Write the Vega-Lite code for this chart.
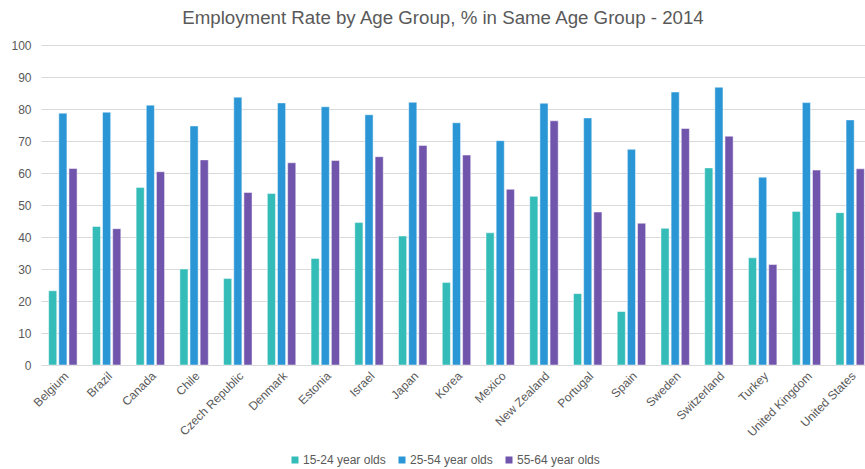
{
  "$schema": "https://vega.github.io/schema/vega-lite/v6.json",
  "width": 824,
  "height": 320,
  "autosize": {"type": "none"},
  "padding": {"left": 41, "top": 45, "right": 0, "bottom": 104},
  "background": "#ffffff",
  "title": {
    "text": "Employment Rate by Age Group, % in Same Age Group - 2014",
    "fontSize": 18.7,
    "fontWeight": "normal",
    "font": "Liberation Sans",
    "color": "#595959",
    "anchor": "middle",
    "offset": 11,
    "dx": -10
  },
  "config": {
    "font": "Liberation Sans",
    "view": {"stroke": null}
  },
  "data": {
    "values": [
      {"country": "Belgium", "group": "15-24 year olds", "rate": 23.2},
      {"country": "Belgium", "group": "25-54 year olds", "rate": 78.7},
      {"country": "Belgium", "group": "55-64 year olds", "rate": 61.4},
      {"country": "Brazil", "group": "15-24 year olds", "rate": 43.3},
      {"country": "Brazil", "group": "25-54 year olds", "rate": 79.0},
      {"country": "Brazil", "group": "55-64 year olds", "rate": 42.6},
      {"country": "Canada", "group": "15-24 year olds", "rate": 55.5},
      {"country": "Canada", "group": "25-54 year olds", "rate": 81.2},
      {"country": "Canada", "group": "55-64 year olds", "rate": 60.4},
      {"country": "Chile", "group": "15-24 year olds", "rate": 30.0},
      {"country": "Chile", "group": "25-54 year olds", "rate": 74.7},
      {"country": "Chile", "group": "55-64 year olds", "rate": 64.1},
      {"country": "Czech Republic", "group": "15-24 year olds", "rate": 27.0},
      {"country": "Czech Republic", "group": "25-54 year olds", "rate": 83.7},
      {"country": "Czech Republic", "group": "55-64 year olds", "rate": 53.9},
      {"country": "Denmark", "group": "15-24 year olds", "rate": 53.6},
      {"country": "Denmark", "group": "25-54 year olds", "rate": 81.9},
      {"country": "Denmark", "group": "55-64 year olds", "rate": 63.2},
      {"country": "Estonia", "group": "15-24 year olds", "rate": 33.3},
      {"country": "Estonia", "group": "25-54 year olds", "rate": 80.7},
      {"country": "Estonia", "group": "55-64 year olds", "rate": 63.9},
      {"country": "Israel", "group": "15-24 year olds", "rate": 44.5},
      {"country": "Israel", "group": "25-54 year olds", "rate": 78.2},
      {"country": "Israel", "group": "55-64 year olds", "rate": 65.1},
      {"country": "Japan", "group": "15-24 year olds", "rate": 40.3},
      {"country": "Japan", "group": "25-54 year olds", "rate": 82.1},
      {"country": "Japan", "group": "55-64 year olds", "rate": 68.6},
      {"country": "Korea", "group": "15-24 year olds", "rate": 25.8},
      {"country": "Korea", "group": "25-54 year olds", "rate": 75.7},
      {"country": "Korea", "group": "55-64 year olds", "rate": 65.6},
      {"country": "Mexico", "group": "15-24 year olds", "rate": 41.3},
      {"country": "Mexico", "group": "25-54 year olds", "rate": 70.1},
      {"country": "Mexico", "group": "55-64 year olds", "rate": 54.9},
      {"country": "New Zealand", "group": "15-24 year olds", "rate": 52.7},
      {"country": "New Zealand", "group": "25-54 year olds", "rate": 81.8},
      {"country": "New Zealand", "group": "55-64 year olds", "rate": 76.3},
      {"country": "Portugal", "group": "15-24 year olds", "rate": 22.3},
      {"country": "Portugal", "group": "25-54 year olds", "rate": 77.2},
      {"country": "Portugal", "group": "55-64 year olds", "rate": 47.8},
      {"country": "Spain", "group": "15-24 year olds", "rate": 16.7},
      {"country": "Spain", "group": "25-54 year olds", "rate": 67.4},
      {"country": "Spain", "group": "55-64 year olds", "rate": 44.3},
      {"country": "Sweden", "group": "15-24 year olds", "rate": 42.7},
      {"country": "Sweden", "group": "25-54 year olds", "rate": 85.3},
      {"country": "Sweden", "group": "55-64 year olds", "rate": 73.9},
      {"country": "Switzerland", "group": "15-24 year olds", "rate": 61.6},
      {"country": "Switzerland", "group": "25-54 year olds", "rate": 86.8},
      {"country": "Switzerland", "group": "55-64 year olds", "rate": 71.5},
      {"country": "Turkey", "group": "15-24 year olds", "rate": 33.5},
      {"country": "Turkey", "group": "25-54 year olds", "rate": 58.7},
      {"country": "Turkey", "group": "55-64 year olds", "rate": 31.4},
      {"country": "United Kingdom", "group": "15-24 year olds", "rate": 48.0},
      {"country": "United Kingdom", "group": "25-54 year olds", "rate": 82.0},
      {"country": "United Kingdom", "group": "55-64 year olds", "rate": 60.9},
      {"country": "United States", "group": "15-24 year olds", "rate": 47.6},
      {"country": "United States", "group": "25-54 year olds", "rate": 76.6},
      {"country": "United States", "group": "55-64 year olds", "rate": 61.3}
    ]
  },
  "mark": {"type": "bar", "stroke": "#ffffff", "strokeOpacity": 0.6, "strokeWidth": 0.8},
  "encoding": {
    "x": {
      "field": "country",
      "type": "nominal",
      "sort": null,
      "scale": {"paddingInner": 0.35, "paddingOuter": 0.175, "range": [0, 831]},
      "axis": {
        "title": null,
        "labelAngle": -45,
        "labelFontSize": 12,
        "labelColor": "#595959",
        "labelFont": "Liberation Sans",
        "ticks": false,
        "labelPadding": 5,
        "domainColor": "#d9d9d9",
        "labelLimit": 200
      }
    },
    "xOffset": {
      "field": "group",
      "type": "nominal",
      "scale": {"paddingInner": 0.2}
    },
    "y": {
      "field": "rate",
      "type": "quantitative",
      "scale": {"domain": [0, 100], "nice": false},
      "axis": {
        "title": null,
        "values": [0, 10, 20, 30, 40, 50, 60, 70, 80, 90, 100],
        "domain": false,
        "ticks": false,
        "labelFontSize": 12,
        "labelColor": "#595959",
        "labelPadding": 10,
        "gridColor": "#d9d9d9",
        "gridWidth": 1
      }
    },
    "color": {
      "field": "group",
      "type": "nominal",
      "scale": {
        "domain": ["15-24 year olds", "25-54 year olds", "55-64 year olds"],
        "range": ["#33bcb8", "#2a96d6", "#7155ac"]
      },
      "legend": {
        "title": null,
        "orient": "none",
        "direction": "horizontal",
        "legendX": 248,
        "legendY": 409,
        "symbolType": "square",
        "symbolSize": 49,
        "symbolStrokeWidth": 0,
        "labelFontSize": 12,
        "labelColor": "#595959",
        "labelOffset": 2,
        "columnPadding": 10
      }
    }
  }
}
